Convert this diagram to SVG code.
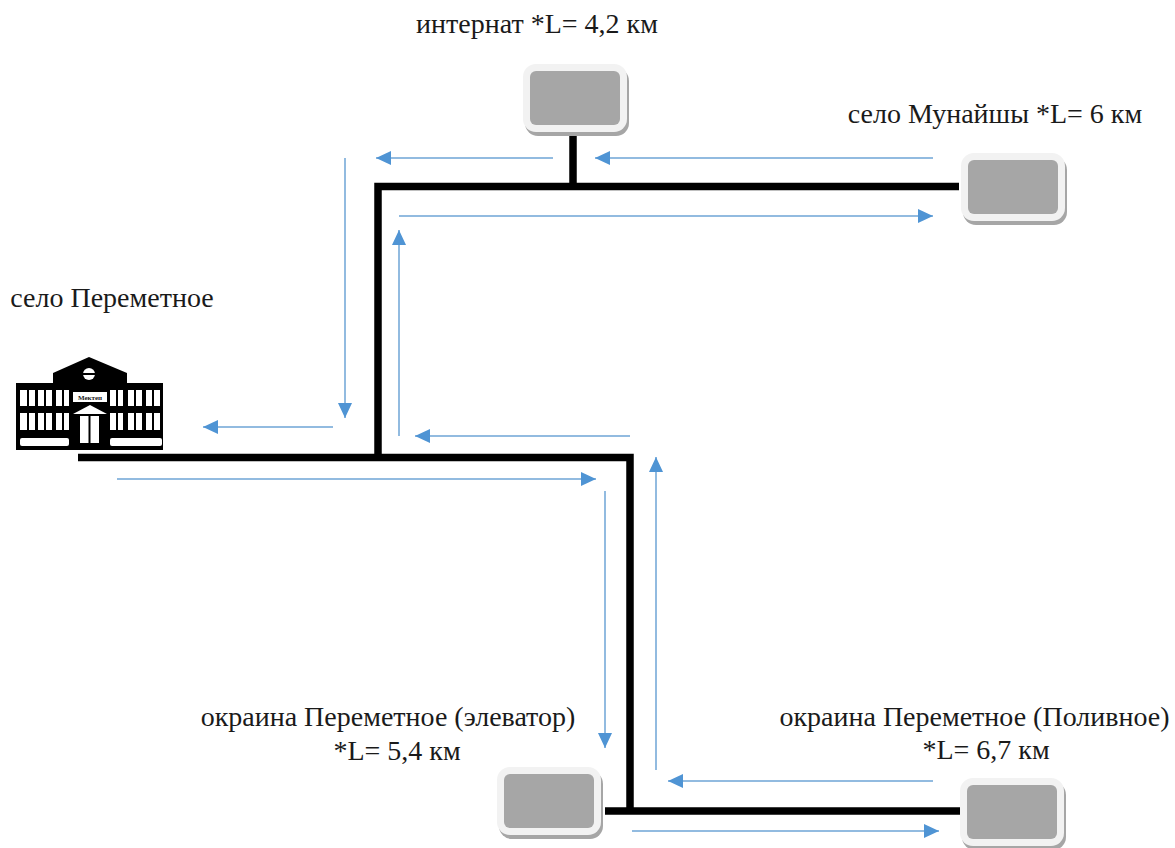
<svg xmlns="http://www.w3.org/2000/svg" width="1175" height="848" viewBox="0 0 1175 848">
<style>
text{font-family:"Liberation Serif","Times New Roman",serif;font-size:28px;fill:#1a1a1a;text-anchor:middle}
.shadow{fill:#a6a6a6}
.outer{fill:#f2f2f2}
.inner{fill:#a6a6a6}
.wire{fill:none;stroke:#000;stroke-width:7.5}
.flow{fill:none;stroke:#6ea5d6;stroke-width:1.5;marker-end:url(#ah)}
.w{fill:#fff}
</style>
<defs>
<marker id="ah" markerUnits="userSpaceOnUse" markerWidth="16" markerHeight="14" refX="15" refY="7" orient="auto"><path d="M0 0L15 7L0 14Z" fill="#4f94d4"/></marker>
<g id="dev">
<rect class="shadow" x="2" y="4" width="104" height="68" rx="13"/>
<rect class="outer" x="0" y="0" width="104" height="68" rx="13"/>
<rect class="inner" x="7" y="7" width="90" height="54" rx="6"/>
</g>
</defs>
<rect width="1175" height="848" fill="#fff"/>
<g id="connectors">
<path class="wire" d="M959 186.500H378V457.500M573 135V186.500M78 457.500H630V811M605 811H960"/>
<path class="flow" d="M553 158H376"/>
<path class="flow" d="M933 158H595"/>
<path class="flow" d="M399 216H933"/>
<path class="flow" d="M399 436V230"/>
<path class="flow" d="M345 158V418"/>
<path class="flow" d="M333 427H203"/>
<path class="flow" d="M630 436H415"/>
<path class="flow" d="M117 479H596"/>
<path class="flow" d="M605 491V748"/>
<path class="flow" d="M656 770V457"/>
<path class="flow" d="M933 781H668"/>
<path class="flow" d="M632 831H939"/>
</g>
<g id="node-internat"><use href="#dev" x="523" y="64"/><text x="537" y="33">интернат *L= 4,2 км</text></g>
<g id="node-munaishy"><use href="#dev" x="961" y="153"/><text x="995" y="123">село Мунайшы *L= 6 км</text></g>
<g id="node-elevator"><use href="#dev" x="497" y="767"/><text x="388" y="726">окраина Переметное (элеватор)</text><text x="397" y="760">*L= 5,4 км</text></g>
<g id="node-polivnoe"><use href="#dev" x="960" y="778"/><text x="974.500" y="726">окраина Переметное (Поливное)</text><text x="986" y="759">*L= 6,7 км</text></g>
<g id="node-peremetnoe">
<text x="112" y="307">село Переметное</text>
<path d="M16 383H53V373L89 357L127 373V383H163V450H16Z" fill="#000"/>
<g class="w">
<rect x="20" y="390" width="7" height="16"/><rect x="29" y="390" width="6" height="16"/>
<rect x="38" y="390" width="6" height="16"/><rect x="46" y="390" width="6" height="16"/>
<rect x="56" y="390" width="6" height="16"/><rect x="64" y="390" width="5" height="16"/>
<rect x="110" y="390" width="6" height="16"/><rect x="118" y="390" width="5" height="16"/>
<rect x="128" y="390" width="6" height="16"/><rect x="136" y="390" width="6" height="16"/>
<rect x="146" y="390" width="6" height="16"/><rect x="154" y="390" width="6" height="16"/>
<rect x="20" y="413" width="7" height="17"/><rect x="29" y="413" width="6" height="17"/>
<rect x="38" y="413" width="6" height="17"/><rect x="46" y="413" width="6" height="17"/>
<rect x="56" y="413" width="6" height="17"/><rect x="64" y="413" width="5" height="17"/>
<rect x="110" y="413" width="6" height="17"/><rect x="118" y="413" width="5" height="17"/>
<rect x="128" y="413" width="6" height="17"/><rect x="136" y="413" width="6" height="17"/>
<rect x="146" y="413" width="6" height="17"/><rect x="154" y="413" width="6" height="17"/>
<rect x="20" y="438" width="49" height="8" rx="2"/><rect x="110" y="438" width="52" height="8" rx="2"/>
<rect x="73" y="392" width="34" height="10"/>
<path d="M73 414L90 405L107 414Z"/>
<rect x="80" y="416" width="8.500" height="27"/><rect x="90.500" y="416" width="8.500" height="27"/>
<circle cx="89" cy="374" r="6"/>
</g>
<rect x="83" y="373" width="12" height="2" fill="#000"/>
<text x="90" y="400" style="font-size:7px;font-weight:bold">Мектеп</text>
</g>
</svg>
